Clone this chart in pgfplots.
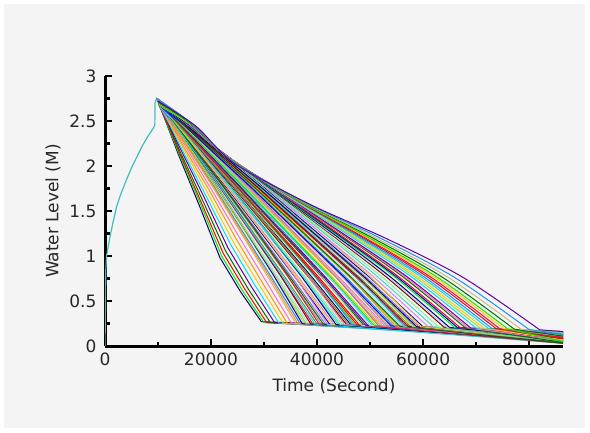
\documentclass[border=0pt]{standalone}
\usepackage{pgfplots}
\pgfplotsset{compat=1.18}
\usepackage{fontspec}
\setmainfont{DejaVu Sans}
\definecolor{bg}{RGB}{244,244,244}
\definecolor{cA}{RGB}{0,0,128}
\definecolor{cB}{RGB}{0,240,0}
\definecolor{cC}{RGB}{255,0,0}
\definecolor{cD}{RGB}{0,110,0}
\definecolor{cE}{RGB}{100,0,160}
\definecolor{cF}{RGB}{0,220,255}
\definecolor{cG}{RGB}{255,200,0}
\definecolor{cH}{RGB}{255,150,0}
\definecolor{cI}{RGB}{255,110,200}
\definecolor{cJ}{RGB}{210,180,140}
\definecolor{cK}{RGB}{30,144,255}
\definecolor{cL}{RGB}{160,220,60}
\definecolor{cM}{RGB}{170,220,240}
\definecolor{cN}{RGB}{220,20,60}
\definecolor{cO}{RGB}{120,140,40}
\definecolor{cP}{RGB}{150,150,150}
\definecolor{cQ}{RGB}{150,110,220}
\definecolor{cR}{RGB}{0,0,230}
\definecolor{cS}{RGB}{220,130,238}
\definecolor{cT}{RGB}{60,220,200}
\definecolor{cU}{RGB}{144,238,144}
\definecolor{cV}{RGB}{139,0,0}
\definecolor{teal2}{RGB}{64,190,190}
\begin{document}
\begin{tikzpicture}
\fill[white] (0,0) rectangle (590pt,432pt);
\fill[bg] (4pt,4pt) rectangle (585pt,428pt);
\begin{axis}[
  at={(105pt,86pt)}, anchor=south west,
  scale only axis, width=458pt, height=270pt,
  xmin=0, xmax=86400, ymin=0, ymax=3,
  axis lines*=left, axis line style={-, line width=3pt, black},
  scaled x ticks=false, scaled y ticks=false,
  xtick={0,20000,40000,60000,80000},
  xticklabels={0,20000,40000,60000,80000},
  minor xtick={10000,30000,50000,70000},
  ytick={0,0.5,1,1.5,2,2.5,3},
  yticklabels={0,0.5,1,1.5,2,2.5,3},
  minor ytick={0.25,0.75,1.25,1.75,2.25,2.75},
  tick align=inside, major tick length=7pt, minor tick length=4.5pt,
  tick style={black, line width=2.5pt},
  tick label style={font=\fontsize{17}{20}\selectfont, text=black!85},
  yticklabel style={xshift=-5pt},
  xticklabel style={yshift=-3pt},
  xlabel style={font=\fontsize{17}{20}\selectfont, text=black!85, yshift=-6pt},
  ylabel style={font=\fontsize{17}{20}\selectfont, text=black!85, yshift=2pt},
  xlabel={Time (Second)}, ylabel={Water Level (M)},
  every axis plot/.append style={line width=1pt},
  clip=true,
]
\addplot[teal2, line width=1.2pt] coordinates {(0,0) (80,0.4) (150,0.85) (300,1.0) (900,1.2) (1500,1.37) (2200,1.55) (3000,1.69) (4000,1.84) (5000,1.98) (6000,2.1) (7000,2.22) (8000,2.32) (9000,2.41) (9400,2.45) (9450,2.7) (9700,2.75) (10000,2.72)};
% short and generic curves
\addplot[cA] coordinates {(9800,2.75) (11950,2.42) (13900,2.12) (17800,1.56) (21700,0.98) (25600,0.60) (29500,0.27) (86400,0.15)};
\addplot[cB] coordinates {(10000,2.72) (12000,2.42) (14000,2.13) (18000,1.58) (22000,1.00) (26000,0.61) (30000,0.26) (86400,0.11)};
\addplot[cC] coordinates {(10150,2.68) (12050,2.43) (14100,2.14) (18200,1.59) (22300,1.03) (26400,0.63) (30500,0.26) (86400,0.07)};
\addplot[cD] coordinates {(9800,2.75) (12120,2.44) (14240,2.15) (18480,1.61) (22720,1.06) (26960,0.64) (31200,0.26) (86400,0.13)};
\addplot[cE] coordinates {(10000,2.72) (12200,2.44) (14400,2.17) (18800,1.64) (23200,1.09) (27600,0.66) (32000,0.26) (86400,0.09)};
\addplot[cF] coordinates {(10150,2.68) (12280,2.45) (14560,2.18) (19120,1.66) (23680,1.13) (28240,0.68) (32800,0.255) (86400,0.05)};
\addplot[cG] coordinates {(9800,2.75) (12360,2.46) (14720,2.20) (19440,1.69) (24160,1.16) (28880,0.70) (33600,0.254) (86400,0.16)};
\addplot[cH] coordinates {(10000,2.72) (12440,2.47) (14880,2.21) (19760,1.72) (24640,1.20) (29520,0.72) (34400,0.253) (86400,0.12)};
\addplot[cI] coordinates {(10150,2.68) (12520,2.47) (15040,2.23) (20080,1.74) (25120,1.23) (30160,0.74) (35200,0.251) (86400,0.08)};
\addplot[cJ] coordinates {(9800,2.75) (12600,2.48) (15200,2.24) (20400,1.76) (25600,1.26) (30800,0.76) (36000,0.25) (86400,0.14)};
\addplot[cK] coordinates {(10000,2.72) (12680,2.48) (15360,2.24) (20720,1.76) (26080,1.26) (31440,0.76) (36800,0.249) (86400,0.10)};
\addplot[cL] coordinates {(10150,2.68) (12760,2.48) (15520,2.24) (21040,1.76) (26560,1.26) (32080,0.76) (37600,0.248) (86400,0.04)};
\addplot[cM] coordinates {(9800,2.75) (12840,2.48) (15680,2.24) (21360,1.76) (27040,1.26) (32720,0.76) (38400,0.247) (86400,0.15)};
\addplot[cN] coordinates {(10000,2.72) (12920,2.48) (15840,2.24) (21680,1.76) (27520,1.26) (33360,0.76) (39200,0.245) (86400,0.11)};
\addplot[cO] coordinates {(10150,2.68) (13000,2.48) (16000,2.24) (22000,1.76) (28000,1.26) (34000,0.76) (40000,0.244) (86400,0.07)};
\addplot[cP] coordinates {(9800,2.75) (13080,2.48) (16160,2.24) (22320,1.76) (28480,1.26) (34640,0.76) (40800,0.243) (86400,0.13)};
\addplot[cQ] coordinates {(10000,2.72) (13160,2.48) (16320,2.24) (22640,1.76) (28960,1.26) (35280,0.76) (41600,0.242) (86400,0.09)};
\addplot[cR] coordinates {(10150,2.68) (13240,2.48) (16480,2.24) (22960,1.76) (29440,1.26) (35920,0.76) (42400,0.241) (86400,0.05)};
\addplot[cS] coordinates {(9800,2.75) (13320,2.48) (16640,2.24) (23280,1.76) (29920,1.26) (36560,0.76) (43200,0.24) (86400,0.16)};
\addplot[cT] coordinates {(10000,2.72) (13400,2.48) (16800,2.24) (23600,1.76) (30400,1.26) (37200,0.76) (44000,0.238) (86400,0.12)};
\addplot[cU] coordinates {(10150,2.68) (13480,2.48) (16960,2.24) (23920,1.76) (30880,1.26) (37840,0.76) (44800,0.237) (86400,0.08)};
\addplot[cV] coordinates {(9800,2.75) (13560,2.48) (17120,2.24) (24240,1.76) (31360,1.26) (38480,0.76) (45600,0.236) (86400,0.14)};
\addplot[cA] coordinates {(10000,2.72) (13640,2.48) (17280,2.24) (24560,1.76) (31840,1.26) (39120,0.76) (46400,0.235) (86400,0.10)};
\addplot[cB] coordinates {(10150,2.68) (13720,2.48) (17440,2.24) (24880,1.76) (32320,1.26) (39760,0.76) (47200,0.234) (86400,0.04)};
\addplot[cC] coordinates {(9800,2.75) (13800,2.48) (17600,2.24) (25200,1.76) (32800,1.26) (40400,0.76) (48000,0.232) (86400,0.15)};
\addplot[cD] coordinates {(10000,2.72) (13880,2.48) (17760,2.24) (25520,1.76) (33280,1.26) (41040,0.76) (48800,0.231) (86400,0.11)};
\addplot[cE] coordinates {(10150,2.68) (13960,2.48) (17920,2.24) (25840,1.76) (33760,1.26) (41680,0.76) (49600,0.23) (86400,0.07)};
\addplot[cF] coordinates {(9800,2.75) (14040,2.48) (18080,2.24) (26160,1.76) (34240,1.26) (42320,0.76) (50400,0.229) (86400,0.13)};
\addplot[cG] coordinates {(10000,2.72) (14120,2.48) (18240,2.24) (26480,1.76) (34720,1.26) (42960,0.76) (51200,0.228) (86400,0.09)};
\addplot[cH] coordinates {(10150,2.68) (14200,2.48) (18400,2.24) (26800,1.76) (35200,1.26) (43600,0.76) (52000,0.226) (86400,0.05)};
\addplot[cI] coordinates {(9800,2.75) (14280,2.48) (18560,2.24) (27120,1.76) (35680,1.26) (44240,0.76) (52800,0.225) (86400,0.16)};
\addplot[cJ] coordinates {(10000,2.72) (14360,2.48) (18720,2.24) (27440,1.76) (36160,1.26) (44880,0.76) (53600,0.224) (86400,0.12)};
\addplot[cK] coordinates {(10150,2.68) (14440,2.48) (18880,2.24) (27760,1.76) (36640,1.26) (45520,0.76) (54400,0.223) (86400,0.08)};
\addplot[cL] coordinates {(9800,2.75) (14520,2.48) (19040,2.24) (28080,1.76) (37120,1.26) (46160,0.76) (55200,0.222) (86400,0.14)};
\addplot[cM] coordinates {(10000,2.72) (14600,2.48) (19200,2.24) (28400,1.76) (37600,1.26) (46800,0.76) (56000,0.22) (86400,0.10)};
\addplot[cN] coordinates {(10150,2.68) (14680,2.48) (19360,2.24) (28720,1.76) (38080,1.26) (47440,0.76) (56800,0.219) (86400,0.04)};
\addplot[cO] coordinates {(9800,2.75) (14760,2.48) (19520,2.24) (29040,1.76) (38560,1.26) (48080,0.76) (57600,0.218) (86400,0.15)};
\addplot[cP] coordinates {(10000,2.72) (14840,2.48) (19680,2.24) (29360,1.76) (39040,1.26) (48720,0.76) (58400,0.217) (86400,0.11)};
\addplot[cQ] coordinates {(10150,2.68) (14920,2.48) (19840,2.24) (29680,1.76) (39520,1.26) (49360,0.76) (59200,0.216) (86400,0.07)};
\addplot[cR] coordinates {(9800,2.75) (15000,2.48) (20000,2.24) (30000,1.76) (40000,1.26) (50000,0.76) (60000,0.214) (86400,0.13)};
% interleaved generic curves
\addplot[cH] coordinates {(10000,2.72) (12640,2.48) (15280,2.24) (20560,1.76) (25840,1.26) (31120,0.76) (36400,0.249) (86400,0.13)};
\addplot[cR] coordinates {(10150,2.68) (12720,2.49) (15440,2.26) (20880,1.79) (26320,1.30) (31760,0.79) (37200,0.248) (86400,0.06)};
\addplot[cL] coordinates {(9800,2.75) (12800,2.48) (15600,2.24) (21200,1.76) (26800,1.26) (32400,0.76) (38000,0.247) (86400,0.15)};
\addplot[cV] coordinates {(10000,2.72) (12880,2.49) (15760,2.26) (21520,1.79) (27280,1.30) (33040,0.79) (38800,0.246) (86400,0.10)};
\addplot[cF] coordinates {(10150,2.68) (12960,2.48) (15920,2.24) (21840,1.76) (27760,1.26) (33680,0.76) (39600,0.244) (86400,0.03)};
\addplot[cN] coordinates {(9800,2.75) (13040,2.49) (16080,2.26) (22160,1.79) (28240,1.30) (34320,0.79) (40400,0.243) (86400,0.12)};
\addplot[cD] coordinates {(10000,2.72) (13120,2.48) (16240,2.24) (22480,1.76) (28720,1.26) (34960,0.76) (41200,0.242) (86400,0.08)};
\addplot[cS] coordinates {(10150,2.68) (13200,2.49) (16400,2.26) (22800,1.79) (29200,1.30) (35600,0.79) (42000,0.241) (86400,0.16)};
\addplot[cG] coordinates {(9800,2.75) (13280,2.48) (16560,2.24) (23120,1.76) (29680,1.26) (36240,0.76) (42800,0.24) (86400,0.11)};
\addplot[cA] coordinates {(10000,2.72) (13360,2.49) (16720,2.26) (23440,1.79) (30160,1.30) (36880,0.79) (43600,0.238) (86400,0.05)};
\addplot[cT] coordinates {(10150,2.68) (13440,2.48) (16880,2.24) (23760,1.76) (30640,1.26) (37520,0.76) (44400,0.237) (86400,0.13)};
\addplot[cI] coordinates {(9800,2.75) (13520,2.49) (17040,2.26) (24080,1.79) (31120,1.30) (38160,0.79) (45200,0.236) (86400,0.06)};
\addplot[cO] coordinates {(10000,2.72) (13600,2.48) (17200,2.24) (24400,1.76) (31600,1.26) (38800,0.76) (46000,0.235) (86400,0.15)};
\addplot[cK] coordinates {(10150,2.68) (13680,2.49) (17360,2.26) (24720,1.79) (32080,1.30) (39440,0.79) (46800,0.233) (86400,0.10)};
\addplot[cC] coordinates {(9800,2.75) (13760,2.48) (17520,2.24) (25040,1.76) (32560,1.26) (40080,0.76) (47600,0.232) (86400,0.03)};
\addplot[cU] coordinates {(10000,2.72) (13840,2.49) (17680,2.26) (25360,1.79) (33040,1.30) (40720,0.79) (48400,0.231) (86400,0.12)};
\addplot[cE] coordinates {(10150,2.68) (13920,2.48) (17840,2.24) (25680,1.76) (33520,1.26) (41360,0.76) (49200,0.23) (86400,0.08)};
\addplot[cM] coordinates {(9800,2.75) (14000,2.49) (18000,2.26) (26000,1.79) (34000,1.30) (42000,0.79) (50000,0.229) (86400,0.16)};
\addplot[cB] coordinates {(10000,2.72) (14080,2.48) (18160,2.24) (26320,1.76) (34480,1.26) (42640,0.76) (50800,0.227) (86400,0.11)};
\addplot[cQ] coordinates {(10150,2.68) (14160,2.49) (18320,2.26) (26640,1.79) (34960,1.30) (43280,0.79) (51600,0.226) (86400,0.05)};
\addplot[cJ] coordinates {(9800,2.75) (14240,2.48) (18480,2.24) (26960,1.76) (35440,1.26) (43920,0.76) (52400,0.225) (86400,0.13)};
\addplot[cP] coordinates {(10000,2.72) (14320,2.49) (18640,2.26) (27280,1.79) (35920,1.30) (44560,0.79) (53200,0.224) (86400,0.06)};
\addplot[cR] coordinates {(10150,2.68) (14400,2.48) (18800,2.24) (27600,1.76) (36400,1.26) (45200,0.76) (54000,0.223) (86400,0.15)};
\addplot[cH] coordinates {(9800,2.75) (14480,2.49) (18960,2.26) (27920,1.79) (36880,1.30) (45840,0.79) (54800,0.221) (86400,0.10)};
\addplot[cD] coordinates {(10000,2.72) (14560,2.48) (19120,2.24) (28240,1.76) (37360,1.26) (46480,0.76) (55600,0.22) (86400,0.03)};
\addplot[cF] coordinates {(10150,2.68) (14640,2.49) (19280,2.26) (28560,1.79) (37840,1.30) (47120,0.79) (56400,0.219) (86400,0.12)};
\addplot[cV] coordinates {(9800,2.75) (14720,2.48) (19440,2.24) (28880,1.76) (38320,1.26) (47760,0.76) (57200,0.218) (86400,0.08)};
\addplot[cL] coordinates {(10000,2.72) (14800,2.49) (19600,2.26) (29200,1.79) (38800,1.30) (48400,0.79) (58000,0.217) (86400,0.16)};
\addplot[cA] coordinates {(10150,2.68) (14880,2.48) (19760,2.24) (29520,1.76) (39280,1.26) (49040,0.76) (58800,0.215) (86400,0.11)};
\addplot[cG] coordinates {(9800,2.75) (14960,2.49) (19920,2.26) (29840,1.79) (39760,1.30) (49680,0.79) (59600,0.214) (86400,0.05)};
% long curves: smooth drop and straight tail
\addplot[cS, smooth] coordinates {(10000,2.72) (15100,2.48) (20200,2.24) (30400,1.76) (40600,1.26) (50800,0.76) (61000,0.212)};
\addplot[cS] coordinates {(61000,0.212) (86400,0.09)};
\addplot[cT, smooth] coordinates {(10150,2.68) (15200,2.48) (20400,2.23) (30800,1.75) (41200,1.26) (51600,0.76) (62000,0.21)};
\addplot[cT] coordinates {(62000,0.21) (86400,0.05)};
\addplot[cU, smooth] coordinates {(9800,2.75) (15300,2.48) (20600,2.22) (31200,1.74) (41800,1.25) (52400,0.76) (63000,0.209)};
\addplot[cU] coordinates {(63000,0.209) (86400,0.16)};
\addplot[cV, smooth] coordinates {(10000,2.72) (15400,2.47) (20800,2.21) (31600,1.73) (42400,1.25) (53200,0.76) (64000,0.207)};
\addplot[cV] coordinates {(64000,0.207) (86400,0.12)};
\addplot[cM, smooth] coordinates {(10150,2.68) (15450,2.47) (20900,2.205) (31800,1.728) (42700,1.248) (53600,0.76) (64500,0.207)};
\addplot[cM] coordinates {(64500,0.207) (86400,0.10)};
\addplot[cA, smooth] coordinates {(10150,2.68) (15500,2.47) (21000,2.20) (32000,1.72) (43000,1.25) (54000,0.76) (65000,0.206)};
\addplot[cA] coordinates {(65000,0.206) (86400,0.08)};
\addplot[cB, smooth] coordinates {(9800,2.75) (15600,2.47) (21200,2.19) (32400,1.71) (43600,1.24) (54800,0.76) (66000,0.204)};
\addplot[cB] coordinates {(66000,0.204) (86400,0.14)};
\addplot[cR, smooth] coordinates {(10000,2.72) (15650,2.47) (21300,2.185) (32600,1.71) (43900,1.24) (55200,0.76) (66500,0.204)};
\addplot[cR] coordinates {(66500,0.204) (86400,0.14)};
\addplot[cC, smooth] coordinates {(10000,2.72) (15700,2.47) (21400,2.18) (32800,1.71) (44200,1.24) (55600,0.76) (67000,0.203)};
\addplot[cC] coordinates {(67000,0.203) (86400,0.10)};
\addplot[cD, smooth] coordinates {(10150,2.68) (15800,2.47) (21600,2.17) (33200,1.70) (44800,1.24) (56400,0.76) (68000,0.201)};
\addplot[cD] coordinates {(68000,0.201) (86400,0.04)};
\addplot[cI, smooth] coordinates {(9800,2.75) (15850,2.466) (21700,2.165) (33400,1.692) (45100,1.235) (56800,0.76) (68500,0.201)};
\addplot[cI] coordinates {(68500,0.201) (86400,0.06)};
\addplot[cE, smooth] coordinates {(9800,2.75) (15900,2.46) (21800,2.16) (33600,1.69) (45400,1.23) (57200,0.76) (69000,0.20)};
\addplot[cE] coordinates {(69000,0.20) (86400,0.15)};
\addplot[cF, smooth] coordinates {(10000,2.72) (16000,2.46) (22000,2.15) (34000,1.68) (46000,1.23) (58000,0.76) (70000,0.198)};
\addplot[cF] coordinates {(70000,0.198) (86400,0.11)};
\addplot[cL, smooth] coordinates {(10150,2.68) (16080,2.461) (22160,2.142) (34320,1.671) (46480,1.227) (58640,0.76) (70800,0.197)};
\addplot[cL] coordinates {(70800,0.197) (86400,0.12)};
\addplot[cG, smooth] coordinates {(10150,2.68) (16150,2.46) (22300,2.135) (34600,1.665) (46900,1.225) (59200,0.76) (71500,0.196)};
\addplot[cG] coordinates {(71500,0.196) (86400,0.07)};
\addplot[cF, smooth] coordinates {(9800,2.75) (16230,2.458) (22460,2.127) (34920,1.658) (47380,1.222) (59840,0.76) (72300,0.195)};
\addplot[cF] coordinates {(72300,0.195) (86400,0.15)};
\addplot[cK, smooth] coordinates {(9800,2.75) (16300,2.46) (22600,2.12) (35200,1.65) (47800,1.22) (60400,0.76) (73000,0.194)};
\addplot[cK] coordinates {(73000,0.194) (86400,0.13)};
\addplot[cC, smooth] coordinates {(10000,2.72) (16380,2.456) (22760,2.112) (35520,1.644) (48280,1.217) (61040,0.76) (73800,0.192)};
\addplot[cC] coordinates {(73800,0.192) (86400,0.08)};
\addplot[cN, smooth] coordinates {(10000,2.72) (16450,2.45) (22900,2.105) (35800,1.64) (48700,1.215) (61600,0.76) (74500,0.191)};
\addplot[cN] coordinates {(74500,0.191) (86400,0.09)};
\addplot[cG, smooth] coordinates {(10150,2.68) (16530,2.453) (23060,2.097) (36120,1.63) (49180,1.212) (62240,0.76) (75300,0.19)};
\addplot[cG] coordinates {(75300,0.19) (86400,0.16)};
\addplot[cB, smooth] coordinates {(10150,2.68) (16600,2.45) (23200,2.09) (36400,1.62) (49600,1.21) (62800,0.76) (76000,0.189)};
\addplot[cB] coordinates {(76000,0.189) (86400,0.05)};
\addplot[cD, smooth] coordinates {(10000,2.72) (16720,2.449) (23440,2.078) (36880,1.614) (50320,1.206) (63760,0.76) (77200,0.187)};
\addplot[cD] coordinates {(77200,0.187) (86400,0.11)};
\addplot[cJ, smooth] coordinates {(9800,2.75) (16850,2.45) (23700,2.065) (37400,1.60) (51100,1.20) (64800,0.76) (78500,0.185)};
\addplot[cJ] coordinates {(78500,0.185) (86400,0.14)};
\addplot[cK, smooth] coordinates {(9800,2.75) (17000,2.444) (24000,2.05) (38000,1.588) (52000,1.197) (66000,0.76) (80000,0.183)};
\addplot[cK] coordinates {(80000,0.183) (86400,0.13)};
\addplot[cE, smooth] coordinates {(10000,2.72) (17200,2.44) (24400,2.03) (38800,1.57) (53200,1.19) (67600,0.76) (82000,0.18)};
\addplot[cE] coordinates {(82000,0.18) (86400,0.16)};
\end{axis}
\end{tikzpicture}
\end{document}
